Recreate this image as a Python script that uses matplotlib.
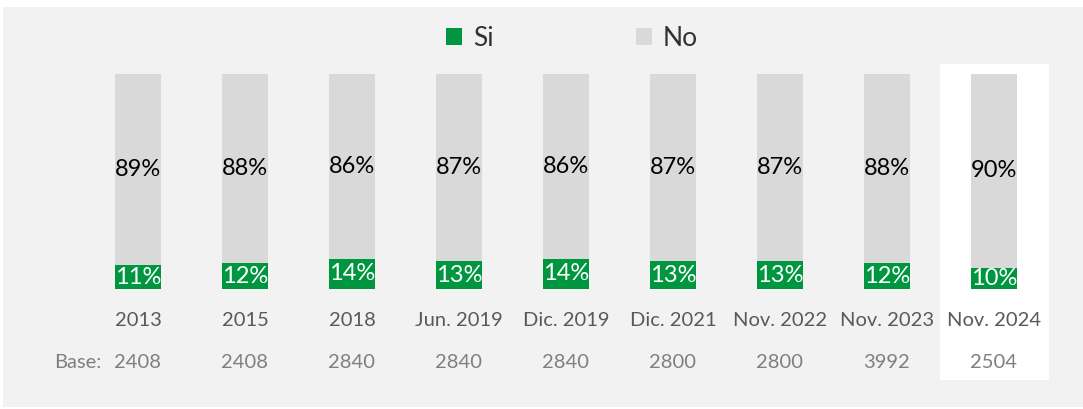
import matplotlib
matplotlib.use("Agg")
import matplotlib.pyplot as plt
from matplotlib.patches import Rectangle, Patch
import numpy as np

categories = ["2013", "2015", "2018", "Jun. 2019", "Dic. 2019", "Dic. 2021",
              "Nov. 2022", "Nov. 2023", "Nov. 2024"]
si_values = [11, 12, 14, 13, 14, 13, 13, 12, 10]
no_values = [89, 88, 86, 87, 86, 87, 87, 88, 90]
bases = ["2408", "2408", "2840", "2840", "2840", "2800", "2800", "3992", "2504"]

GREEN = "#00963F"
GRAY = "#D9D9D9"
BG = "#F2F2F2"

plt.rcParams['font.family'] = ['Lato', 'DejaVu Sans']

W, H = 1083, 409
fig = plt.figure(figsize=(W / 100, H / 100), dpi=100, facecolor="white")

# background panel
bg_ax = fig.add_axes([3 / W, 1 - 407 / H, 1 - 3 / W, (407 - 7) / H], zorder=0)
bg_ax.set_facecolor(BG)
bg_ax.set_xticks([])
bg_ax.set_yticks([])
for s in bg_ax.spines.values():
    s.set_visible(False)

ax = fig.add_axes([0, 0, 1, 1], zorder=1)
ax.set_facecolor("none")
ax.set_axis_off()

px_per_unit = 107.0
x0_px = 138.0
ax.set_xlim(-x0_px / px_per_unit, (W - x0_px) / px_per_unit)
py_per_pct = 2.15
base_px = 289.0
ax.set_ylim(-(H - base_px) / py_per_pct, 100 + 74 / py_per_pct)

x = np.arange(len(categories))

# highlight for last category
last = x[-1]
ax.add_patch(Rectangle((last - 0.5, -42.3), 1.01, 104.65 + 42.3,
                       facecolor="white", edgecolor="none", zorder=1))

bw = 0.43
ax.bar(x, si_values, width=bw, color=GREEN, zorder=2)
ax.bar(x, no_values, width=bw, bottom=si_values, color=GRAY, zorder=2)

for xi, s, n in zip(x, si_values, no_values):
    ax.text(xi, s / 2, f"{s}%", ha="center", va="center", color="white",
            fontsize=17, zorder=3)
    ax.text(xi, s + n / 2, f"{n}%", ha="center", va="center", color="black",
            fontsize=17, zorder=3)

cat_y = -(320 - base_px) / py_per_pct
base_y = -(363 - base_px) / py_per_pct
for xi, c, b in zip(x, categories, bases):
    ax.text(xi, cat_y, c, ha="center", va="center", color="#595959",
            fontsize=14.5, zorder=3)
    ax.text(xi, base_y, b, ha="center", va="center", color="#7F7F7F",
            fontsize=14.5, zorder=3)
ax.text(x[0] - 0.34, base_y, "Base:", ha="right", va="center", color="#7F7F7F",
        fontsize=14.5, zorder=3)

handles = [Patch(facecolor=GREEN, edgecolor="none", label="Si"),
           Patch(facecolor=GRAY, edgecolor="none", label="No")]
ax.legend(handles=handles, loc="center", bbox_to_anchor=(572 / W, 1 - 38 / H),
          ncol=2, frameon=False, fontsize=19, handlelength=0.6,
          handleheight=0.6, handletextpad=0.4, columnspacing=5.4,
          labelcolor="#333333")

fig.savefig("out.png", dpi=100, facecolor="white")
